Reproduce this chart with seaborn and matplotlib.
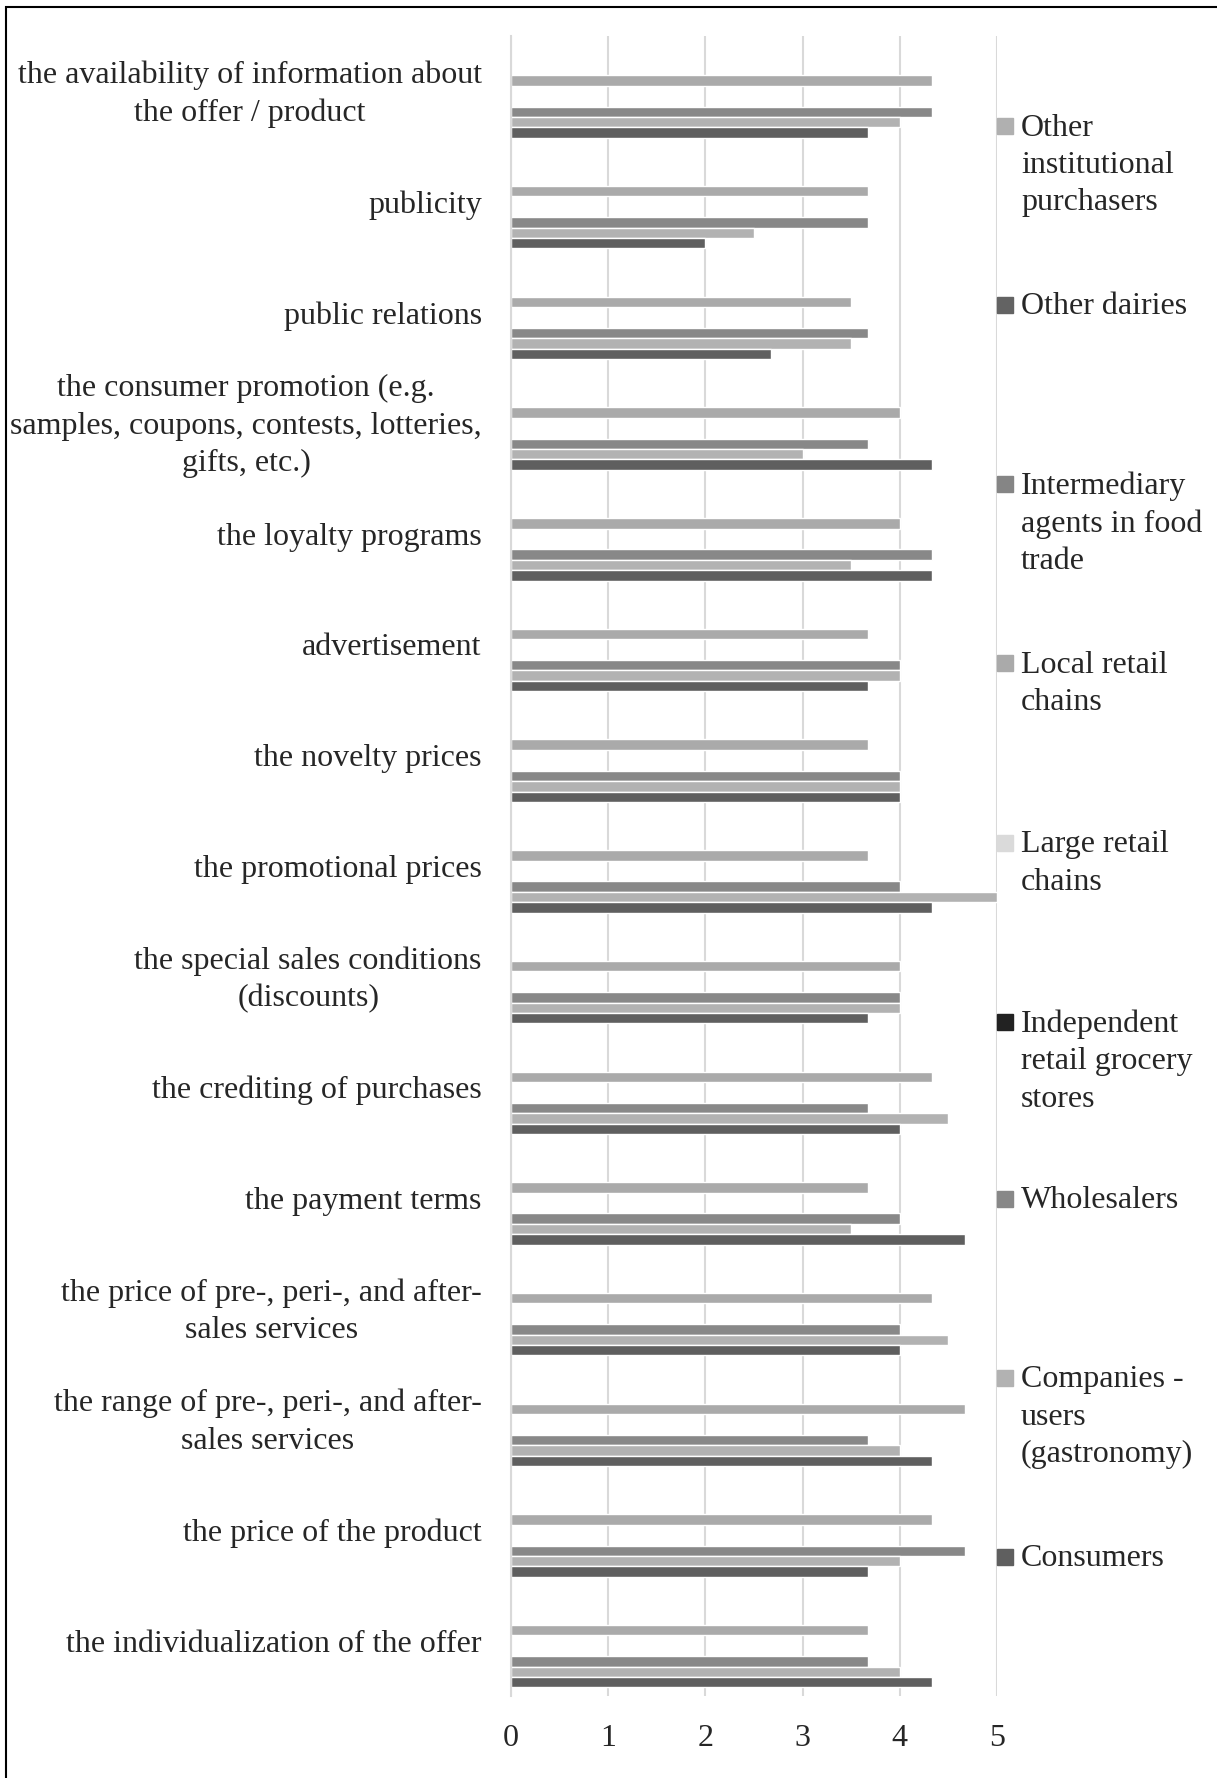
import numpy as np
import pandas as pd
import seaborn as sns
import matplotlib.pyplot as plt
import matplotlib.transforms as mtransforms
from matplotlib.patches import Rectangle

# categories, top to bottom as shown
categories = [
    "the availability of information about\nthe offer / product",
    "publicity",
    "public relations",
    "the consumer promotion (e.g.\nsamples, coupons, contests, lotteries,\ngifts, etc.)",
    "the loyalty programs",
    "advertisement",
    "the novelty prices",
    "the promotional prices",
    "the special sales conditions\n(discounts)",
    "the crediting of purchases",
    "the payment terms",
    "the price of pre-, peri-, and after-\nsales services",
    "the range of pre-, peri-, and after-\nsales services",
    "the price of the product",
    "the individualization of the offer",
]

# series in legend order (top to bottom)
series = [
    "Other\ninstitutional\npurchasers",
    "Other dairies",
    "Intermediary\nagents in food\ntrade",
    "Local retail\nchains",
    "Large retail\nchains",
    "Independent\nretail grocery\nstores",
    "Wholesalers",
    "Companies -\nusers\n(gastronomy)",
    "Consumers",
]
colors = ["#b0b0b0", "#636363", "#858585", "#aaaaaa", "#dadada",
          "#222222", "#888888", "#b2b2b2", "#5f5f5f"]

local_retail = [4.33, 3.67, 3.5, 4.0, 4.0, 3.67, 3.67, 3.67, 4.0, 4.33, 3.67, 4.33, 4.67, 4.33, 3.67]
wholesalers = [4.33, 3.67, 3.67, 3.67, 4.33, 4.0, 4.0, 4.0, 4.0, 3.67, 4.0, 4.0, 3.67, 4.67, 3.67]
companies = [4.0, 2.5, 3.5, 3.0, 3.5, 4.0, 4.0, 5.0, 4.0, 4.5, 3.5, 4.5, 4.0, 4.0, 4.0]
consumers = [3.67, 2.0, 2.67, 4.33, 4.33, 3.67, 4.0, 4.33, 3.67, 4.0, 4.67, 4.0, 4.33, 3.67, 4.33]
empty = [np.nan] * len(categories)

values = {
    series[0]: empty, series[1]: empty, series[2]: empty,
    series[3]: local_retail, series[4]: empty, series[5]: empty,
    series[6]: wholesalers, series[7]: companies, series[8]: consumers,
}

rows = []
for s in series:
    for c, v in zip(categories, values[s]):
        rows.append({"category": c, "series": s, "value": v})
df = pd.DataFrame(rows)

sns.set_style("white")
plt.rcParams['font.family'] = ['Liberation Serif', 'DejaVu Serif']

fig = plt.figure(figsize=(12.17, 17.78), dpi=100)
ax = fig.add_axes([511 / 1217, 1 - 1696 / 1778, 486 / 1217, (1696 - 35.6) / 1778])

sns.barplot(data=df, y="category", x="value", hue="series", order=categories,
            hue_order=series, palette=colors, width=0.846, orient="h",
            errorbar=None, saturation=1, legend=False, ax=ax)

ax.set_xlim(0, 5)
ax.set_xticks(range(6))
ax.set_xlabel("")
ax.set_ylabel("")
ax.grid(axis="x", color="#d9d9d9", linewidth=1.5)
ax.set_axisbelow(True)
for sp in ["top", "right", "bottom"]:
    ax.spines[sp].set_visible(False)
ax.spines["left"].set_color("#d9d9d9")
ax.spines["left"].set_linewidth(1.5)
ax.tick_params(axis="x", length=0, labelsize=23, pad=20)
ax.tick_params(axis="y", length=0, labelsize=23, pad=21)
nudge = mtransforms.ScaledTranslation(0, 3.3 / 72, fig.dpi_scale_trans)
for lab in ax.get_yticklabels():
    lab.set_multialignment("center")
    lab.set_linespacing(1.38)
    if "\n" in lab.get_text():
        lab.set_transform(lab.get_transform() + nudge)

# legend, spread along the right side like the original
leg_y = [126, 305, 484, 663, 843, 1022, 1199, 1378, 1557]
for s, col, y in zip(series, colors, leg_y):
    fig.patches.append(Rectangle((997 / 1217, 1 - (y + 8) / 1778), 16 / 1217, 16 / 1778,
                                 transform=fig.transFigure, color=col))
    fig.text(1021 / 1217, 1 - (y - 12.5) / 1778, s, fontsize=23, va="top", ha="left",
             linespacing=1.38)

# outer frame (only top and left visible in the source)
fig.patches.append(Rectangle((6 / 1217, -0.01), 1.1, 1 - 7 / 1778 + 0.01,
                             transform=fig.transFigure, fill=False,
                             edgecolor="black", linewidth=1.5))

fig.savefig("out.png", dpi=100)
